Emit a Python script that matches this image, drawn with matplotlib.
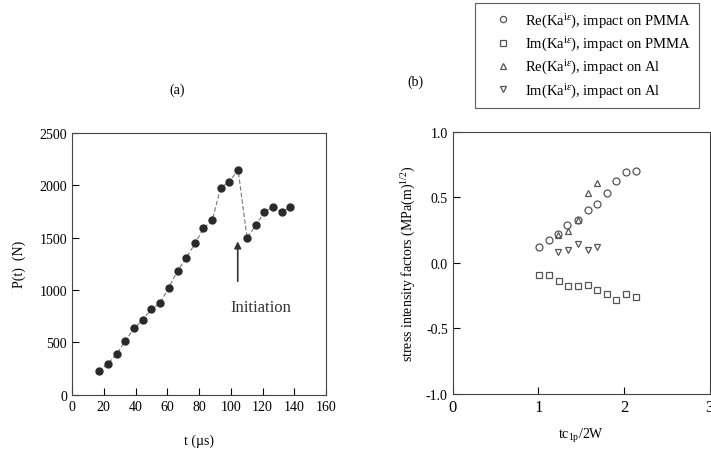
import matplotlib
matplotlib.use("Agg")
import matplotlib.pyplot as plt

plt.rcParams['font.family'] = ['Liberation Serif', 'DejaVu Serif']
plt.rcParams['mathtext.fontset'] = 'custom'
plt.rcParams['mathtext.rm'] = 'Liberation Serif'
plt.rcParams['mathtext.it'] = 'Liberation Serif:italic'

# Panel (a): load vs time
t_us = [16.8, 22.4, 28.1, 33.5, 39.2, 44.5, 49.9, 55.4, 60.8, 66.5, 71.9, 77.6,
        82.8, 88.3, 93.7, 99.2, 104.6, 110.3, 115.7, 121.2, 126.7, 132.1, 137.6]
load_N = [225, 295, 387, 517, 635, 714, 816, 873, 1022, 1181, 1308, 1444,
          1587, 1663, 1975, 2032, 2146, 1495, 1616, 1740, 1794, 1740, 1794]

# Panel (b): stress intensity factors
x_pmma = [1.01, 1.12, 1.23, 1.34, 1.46, 1.575, 1.684, 1.797, 1.906, 2.02, 2.136]
re_pmma = [0.122, 0.173, 0.221, 0.292, 0.330, 0.404, 0.452, 0.536, 0.623, 0.694, 0.704]
x_pmma_im = [1.01, 1.12, 1.24, 1.35, 1.46, 1.575, 1.684, 1.797, 1.91, 2.02, 2.136]
im_pmma = [-0.089, -0.089, -0.135, -0.178, -0.178, -0.170, -0.208, -0.241, -0.287, -0.236, -0.259]
x_al = [1.232, 1.349, 1.466, 1.575, 1.684]
re_al = [0.216, 0.239, 0.330, 0.529, 0.610]
im_al = [0.081, 0.097, 0.147, 0.097, 0.119]

fig = plt.figure(figsize=(7.11, 4.56), dpi=100)

# ---- panel (a)
ax1 = fig.add_axes([0.1013, 0.1316, 0.3572, 0.5756])
ax1.plot(t_us, load_N, linestyle=(0, (4, 2)), color='#777777', linewidth=0.8,
         marker='o', markersize=5, markerfacecolor='#2a2a2a', markeredgecolor='#2a2a2a')
ax1.set_xlim(0, 160)
ax1.set_ylim(0, 2500)
ax1.set_xticks(range(0, 161, 20))
ax1.set_yticks(range(0, 2501, 500))
ax1.tick_params(direction='in', length=5, labelsize=10, top=False, right=False)
for s in ax1.spines.values():
    s.set_color('#444444')
ax1.set_xlabel('t (\u00b5s)', fontsize=10, labelpad=15)
ax1.set_ylabel('P(t)  (N)', fontsize=10, labelpad=10)
ax1.annotate('', xy=(104.4, 1490), xytext=(104.4, 1057),
             arrowprops=dict(arrowstyle='-|>', color='#333333', lw=1.2, mutation_scale=10))
ax1.text(118.9, 835, 'Initiation', fontsize=12, ha='center', va='center', color='#333333')
fig.text(177 / 711, 1 - 90 / 456, '(a)', fontsize=10, ha='center', va='center')

# ---- panel (b)
ax2 = fig.add_axes([0.6367, 0.1338, 0.3613, 0.5752])
mk = dict(linestyle='none', markersize=5, markerfacecolor='none',
          markeredgecolor='#555555', markeredgewidth=0.9)
ax2.plot(x_pmma, re_pmma, marker='o', label=r'Re(Ka$^{\mathrm{i}\varepsilon}$), impact on PMMA', **mk)
ax2.plot(x_pmma_im, im_pmma, marker='s', label=r'Im(Ka$^{\mathrm{i}\varepsilon}$), impact on PMMA', **mk)
ax2.plot(x_al, re_al, marker='^', label=r'Re(Ka$^{\mathrm{i}\varepsilon}$), impact on Al', **mk)
ax2.plot(x_al, im_al, marker='v', label=r'Im(Ka$^{\mathrm{i}\varepsilon}$), impact on Al', **mk)
ax2.set_xlim(0, 3)
ax2.set_ylim(-1.0, 1.0)
ax2.set_xticks([0, 1, 2, 3])
ax2.set_yticks([-1.0, -0.5, 0.0, 0.5, 1.0])
ax2.set_yticklabels(['-1.0', '-0.5', '0.0', '0.5', '1.0'])
ax2.tick_params(axis='x', direction='in', length=5, labelsize=12, top=False)
ax2.tick_params(axis='y', direction='in', length=5, labelsize=10, right=False)
for s in ax2.spines.values():
    s.set_color('#444444')
ax2.set_xlabel(r'$\mathrm{tc}_{\mathrm{1p}}\mathrm{/2W}$', fontsize=10, labelpad=8)
ax2.set_ylabel(r'stress intensity factors (MPa(m)$^{\mathrm{1/2}}$)', fontsize=10, labelpad=6)
fig.text(415 / 711, 1 - 82 / 456, '(b)', fontsize=10, ha='center', va='center')

h, l = ax2.get_legend_handles_labels()
leg = fig.legend(h, l, loc='upper left', bbox_to_anchor=(0.668, 0.992),
                 fontsize=10.5, frameon=True, fancybox=False, edgecolor='#333333',
                 handlelength=2.7, handletextpad=0.1, borderpad=0.6, labelspacing=0.35,
                 markerscale=0.9, borderaxespad=0)
leg.get_frame().set_linewidth(0.8)

fig.savefig('out.png', dpi=100)
